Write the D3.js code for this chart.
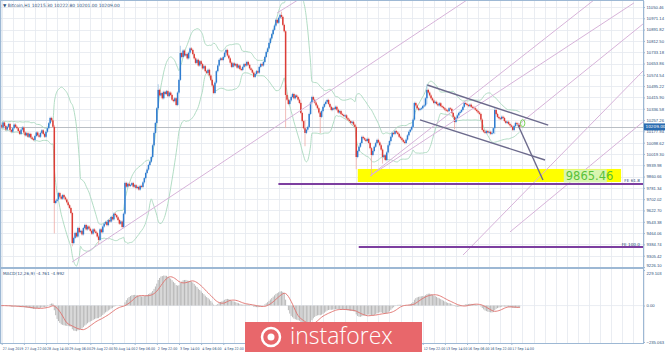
<!DOCTYPE html>
<html><head><meta charset="utf-8">
<script src="https://cdn.jsdelivr.net/npm/d3@7"></script>
<style>
body{margin:0;background:#fff;}
svg{display:block;font-family:"DejaVu Sans",sans-serif;}
</style></head><body>
<svg id="chart" width="665" height="352"></svg>
<script>
// hourly closes, Bitcoin H1, 27 Aug - 17 Sep
const closes = [
10223,10205,10240,10215,10190,10210,10230,10188,10175,10200,10225,10210,10200,10180,10160,10190,10205,10170,10150,10165,
10140,10160,10135,10125,10118,10145,10170,10150,10140,10167,10185,10160,10140,10175,10200,10235,10272,10255,10210,9675,
9690,9700,9745,9720,9705,9731,9715,9700,9680,9660,9640,9605,9394,9430,9465,9440,9500,9470,9480,9455,
9500,9521,9490,9510,9495,9480,9460,9490,9475,9465,9440,9416,9490,9470,9510,9530,9542,9520,9555,9545,
9577,9560,9600,9590,9575,9556,9530,9545,9507,9600,9816,9790,9810,9795,9802,9815,9790,9800,9780,9788,
9770,9795,9788,9820,9850,9886,9910,9942,9965,9998,10080,10167,10237,10340,10469,10430,10447,10410,10455,10440,
10460,10425,10450,10433,10400,10390,10410,10363,10450,10539,10728,10700,10745,10710,10720,10690,10730,10760,10749,10720,
10690,10658,10680,10640,10670,10650,10620,10635,10600,10588,10610,10570,10539,10500,10447,10520,10600,10640,10679,10690,
10679,10700,10730,10749,10710,10690,10660,10630,10655,10640,10650,10625,10640,10615,10609,10630,10650,10640,10665,10645,
10620,10609,10590,10560,10580,10600,10590,10630,10650,10640,10665,10700,10735,10760,10798,10830,10860,10890,10920,10960,
10940,10975,10995,10981,10925,10880,10433,10400,10370,10395,10419,10440,10410,10430,10419,10400,10377,10307,10250,10200,
10167,10190,10209,10300,10380,10419,10400,10380,10360,10340,10310,10279,10320,10350,10370,10385,10398,10370,10350,10328,
10340,10335,10350,10330,10310,10320,10300,10293,10285,10290,10270,10260,10250,10237,10245,10225,10209,9998,10040,10070,
10096,10139,10130,10120,10110,10125,10096,10060,10012,10040,10070,10095,10118,10100,10080,10050,9998,10010,9977,10030,
10080,10110,10140,10167,10160,10180,10170,10160,10140,10130,10118,10105,10096,10120,10150,10175,10190,10209,10260,10377,
10360,10340,10328,10335,10340,10355,10360,10410,10469,10450,10430,10410,10395,10377,10385,10370,10360,10375,10355,10349,
10340,10330,10325,10320,10340,10335,10307,10280,10244,10270,10290,10307,10315,10328,10350,10377,10370,10363,10355,10365,
10350,10349,10340,10330,10320,10310,10300,10260,10188,10175,10167,10180,10170,10175,10160,10167,10200,10328,10300,10279,
10270,10265,10280,10272,10250,10237,10245,10230,10220,10210,10188,10215,10237,10230,10223,10209
];
const firstOpen = 10230;
// [bar, high, low] for the long shadows
const spikes = [
  [39, 10215, 9470], [52, 9605, 9380], [71, 9445, 9395], [114, 10500, 10337], [130, 10770, 10539],
  [203, 11009, 10975], [206, 10880, 10209], [220, 10250, 10082], [231, 10310, 10174], [257, 10209, 9920],
  [268, 10060, 9870], [276, 10050, 9960], [308, 10500, 10377], [328, 10280, 10200], [357, 10340, 10167]
];

const priceTicks = [9226.10, 9305.42, 9384.74, 9464.06, 9543.38, 9622.70, 9702.02, 9781.34, 9860.66, 9939.98,
  10019.30, 10098.62, 10177.94, 10257.26, 10336.58, 10415.90, 10495.22, 10574.54, 10653.86, 10733.18,
  10812.50, 10891.82, 10971.14, 11050.46];
const timeLabels = ["27 Aug 2019", "27 Aug 22:00", "28 Aug 14:00", "29 Aug 06:00", "29 Aug 22:00", "30 Aug 14:00",
  "2 Sep 06:00", "2 Sep 22:00", "3 Sep 14:00", "4 Sep 06:00", "4 Sep 22:00", "5 Sep 14:00", "6 Sep 06:00",
  "6 Sep 22:00", "9 Sep 14:00", "10 Sep 06:00", "10 Sep 22:00", "11 Sep 14:00", "12 Sep 06:00", "12 Sep 22:00",
  "13 Sep 14:00", "16 Sep 06:00", "16 Sep 22:00", "17 Sep 14:00"];
const labelBars = [1, 17, 33, 49, 65, 81, 97, 113, 129, 145, 161, 177, 193, 209, 225, 241, 257, 273, 289, 305, 321, 337, 353, 369];
const macdTicks = [229.103, 0, -235.063];

// drawn objects, [bar, price] end points
const trendLines = [
  [[51.8, 9261], [337.0, 11100]],
  [[199.8, 11008], [214.9, 11100]],
  [[266.9, 9865], [457.5, 11079]],
  [[266.9, 9865], [428.7, 11100]],
  [[334.1, 9310], [464, 10601]],
  [[368.0, 9472], [464, 10244]],
  [[373.8, 10222], [464, 10931]]
];
const channelLines = [
  [[308.3, 10503], [395.6, 10222]],
  [[303.0, 10258], [393.3, 9977]],
  [[373.8, 10223], [391.8, 9837]]
];
const feLevels = [{ name: "FE 61.8", price: 9808.5, from: 200.8 }, { name: "FE 100.0", price: 9366.4, from: 258.8 }];
const targetZone = { from: 258.1, to: 448.2, top: 9914, bottom: 9822.5, label: "9865.46" };
const lastPrice = 10209.0;

const svg = d3.select("#chart");
const plotRight = 643;
const x = d3.scaleLinear().domain([0, 466]).range([0.3, 0.3 + 466 * 1.385]);
const y = d3.scaleLinear().domain([priceTicks[0], priceTicks[priceTicks.length - 1]]).range([267, 7]);
const yM = d3.scaleLinear().domain([macdTicks[2], macdTicks[0]]).range([342, 270]);

const defs = svg.append("defs");
defs.append("clipPath").attr("id", "cp").append("rect").attr("x", 0).attr("y", 1).attr("width", plotRight).attr("height", 266);
defs.append("clipPath").attr("id", "cm").append("rect").attr("x", 0).attr("y", 269).attr("width", plotRight).attr("height", 74);

// grid
const grid = svg.append("g").attr("stroke", "#e4e9ef").attr("stroke-width", 0.8);
grid.selectAll(".h").data(priceTicks).join("line")
  .attr("x1", 0).attr("x2", plotRight).attr("y1", d => Math.round(y(d)) + 0.5).attr("y2", d => Math.round(y(d)) + 0.5);
grid.selectAll(".v").data(d3.range(1, 466, 8)).join("line")
  .attr("x1", d => Math.round(x(d)) + 0.5).attr("x2", d => Math.round(x(d)) + 0.5).attr("y1", 1).attr("y2", 343);
grid.append("line").attr("x1", 0).attr("x2", plotRight).attr("y1", yM(0)).attr("y2", yM(0));

// bars
const bars = closes.map((c, i) => {
  const o = i === 0 ? firstOpen : closes[i - 1];
  return { i, o, c, h: Math.max(o, c), l: Math.min(o, c) };
});
spikes.forEach(([i, h, l]) => { bars[i].h = h; bars[i].l = l; });

// bollinger 20,2
const bb = closes.map((c, i) => {
  const w = closes.slice(Math.max(0, i - 19), i + 1);
  const m = d3.mean(w), sd = Math.sqrt(d3.mean(w, v => (v - m) ** 2));
  return { i, up: m + 2 * sd, lo: m - 2 * sd };
});

const pricePanel = svg.append("g").attr("clip-path", "url(#cp)");

// target zone
pricePanel.append("rect")
  .attr("x", x(targetZone.from)).attr("width", x(targetZone.to) - x(targetZone.from))
  .attr("y", y(targetZone.top)).attr("height", y(targetZone.bottom) - y(targetZone.top))
  .attr("fill", "#ffff00");

// last price line
pricePanel.append("line").attr("x1", 0).attr("x2", plotRight)
  .attr("y1", Math.round(y(lastPrice)) + 0.5).attr("y2", Math.round(y(lastPrice)) + 0.5)
  .attr("stroke", "#b9bec4").attr("stroke-width", 1);

const band = k => d3.line().x(d => x(d.i)).y(d => y(d[k])).curve(d3.curveMonotoneX);
["up", "lo"].forEach(k => {
  pricePanel.append("path").datum(bb.slice(1)).attr("d", band(k))
    .attr("fill", "none").attr("stroke", "#a9d8bd").attr("stroke-width", 0.9);
});

pricePanel.append("g").selectAll("line").data(bars).join("line")
  .attr("x1", d => x(d.i)).attr("x2", d => x(d.i))
  .attr("y1", d => y(d.h) - 1.2).attr("y2", d => y(d.l) + 1.2)
  .attr("stroke", d => d.c >= d.o ? "#9cc1e6" : "#eeaaa6").attr("stroke-width", 0.8);
pricePanel.append("g").selectAll("rect").data(bars).join("rect")
  .attr("x", d => x(d.i) - 0.75).attr("width", 1.5)
  .attr("y", d => y(Math.max(d.o, d.c)))
  .attr("height", d => Math.max(1, Math.abs(y(d.o) - y(d.c))))
  .attr("fill", d => d.c >= d.o ? "#2f7cd0" : "#dc3c36");

const seg = l => pricePanel.append("line")
  .attr("x1", x(l[0][0])).attr("y1", y(l[0][1])).attr("x2", x(l[1][0])).attr("y2", y(l[1][1]));
trendLines.forEach(l => seg(l).attr("stroke", "#d7b3d9").attr("stroke-width", 1));
channelLines.forEach(l => seg(l).attr("stroke", "#6c6a8c").attr("stroke-width", 1.4));

feLevels.forEach(f => {
  pricePanel.append("line").attr("x1", x(f.from)).attr("x2", plotRight)
    .attr("y1", y(f.price)).attr("y2", y(f.price)).attr("stroke", "#7d3fa0").attr("stroke-width", 1.8);
  svg.append("text").attr("x", 640).attr("y", y(f.price) - 1.5).attr("text-anchor", "end")
    .attr("font-size", 4.2).attr("fill", "#2e4f7a").text(f.name);
});

// circle marker at last bar
pricePanel.append("ellipse").attr("cx", x(375) + 3).attr("cy", y(10235)).attr("rx", 2.2).attr("ry", 3.5)
  .attr("fill", "none").attr("stroke", "#6ccf48").attr("stroke-width", 0.9);

// target label
const tx = x(targetZone.from) + 0.79 * (x(targetZone.to) - x(targetZone.from));
const tl = svg.append("g");
tl.append("rect").attr("x", tx - 2).attr("y", y(+targetZone.label) - 6.5).attr("width", 43).attr("height", 13).attr("fill", "#d9f5b0");
tl.append("text").attr("x", tx).attr("y", y(+targetZone.label) + 4.2).attr("font-size", 11.5)
  .attr("fill", "#58c13a").text(targetZone.label);

// MACD 12,26,9
const ema = (arr, n) => { const a = 2 / (n + 1); let e = arr[0]; return arr.map(v => (e = e + a * (v - e))); };
const e12 = ema(closes, 12), e26 = ema(closes, 26);
const macd = closes.map((c, i) => e12[i] - e26[i]);
const signal = macd.map((m, i) => d3.mean(macd.slice(Math.max(0, i - 8), i + 1)));
const macdPanel = svg.append("g").attr("clip-path", "url(#cm)");
macdPanel.selectAll("line").data(macd).join("line")
  .attr("x1", (d, i) => x(i)).attr("x2", (d, i) => x(i))
  .attr("y1", yM(0)).attr("y2", d => yM(d))
  .attr("stroke", "#b8b8b8").attr("stroke-width", 1);
macdPanel.append("path").datum(signal)
  .attr("d", d3.line().x((d, i) => x(i)).y(d => yM(d)))
  .attr("fill", "none").attr("stroke", "#e0706c").attr("stroke-width", 0.9);

// frame
const frame = svg.append("g").attr("stroke", "#9db8d4");
frame.append("line").attr("x1", plotRight + 0.5).attr("x2", plotRight + 0.5).attr("y1", 0).attr("y2", 344);
frame.append("line").attr("x1", 0).attr("x2", plotRight + 1).attr("y1", 343.5).attr("y2", 343.5);
frame.append("line").attr("x1", 0).attr("x2", plotRight + 1).attr("y1", 268).attr("y2", 268).attr("stroke-width", 2.2);
frame.append("line").attr("x1", 0.5).attr("x2", 0.5).attr("y1", 0).attr("y2", 344).attr("stroke-width", 1.5);
frame.append("line").attr("x1", 0).attr("x2", plotRight + 1).attr("y1", 0.5).attr("y2", 0.5);

// axes
const axisR = svg.append("g").attr("transform", `translate(${plotRight},0)`)
  .call(d3.axisRight(y).tickValues(priceTicks).tickSize(2).tickFormat(d3.format(".2f")));
axisR.select(".domain").remove();
axisR.selectAll("text").attr("font-size", 4.2).attr("fill", "#2e4f7a").attr("x", 3.5);
axisR.selectAll(".tick").filter(d => d === priceTicks[0]).select("text").attr("dy", "-0.05em");
axisR.selectAll("line").attr("stroke", "#9db8d4");

const axisM = svg.append("g").attr("transform", `translate(${plotRight},0)`)
  .call(d3.axisRight(yM).tickValues(macdTicks).tickSize(2).tickFormat(d => d === 0 ? "0.00" : d3.format(".3f")(d)));
axisM.select(".domain").remove();
axisM.selectAll("text").attr("font-size", 4.2).attr("fill", "#2e4f7a").attr("x", 3.5);
axisM.selectAll(".tick").filter(d => d === macdTicks[0]).select("text").attr("dy", "0.95em");
axisM.selectAll("line").attr("stroke", "#9db8d4");

const px = svg.append("g").attr("transform", `translate(${plotRight},${y(lastPrice)})`);
px.append("rect").attr("x", 1).attr("y", -3.5).attr("width", 21).attr("height", 7).attr("fill", "#2b6cb0");
px.append("text").attr("x", 2.5).attr("y", 1.5).attr("font-size", 4.2).attr("fill", "#fff").text(d3.format(".2f")(lastPrice));

// time labels; the ones under the badge are hidden in the source too
const logoSpan = [240, 422];
const shown = labelBars.map((b, i) => ({ b, t: timeLabels[i] }))
  .filter(d => x(d.b) < logoSpan[0] || x(d.b) > logoSpan[1]);
const axisB = svg.append("g").attr("transform", "translate(0,343)");
axisB.selectAll("text").data(shown).join("text")
  .attr("x", d => x(d.b) + 1).attr("y", 6.5)
  .attr("font-family", "'Liberation Sans Narrow','DejaVu Sans Condensed',sans-serif")
  .attr("font-size", 3.6).attr("fill", "#2e4f7a")
  .text(d => d.t);
axisB.selectAll("line").data(labelBars).join("line")
  .attr("x1", d => x(d) + 0.5).attr("x2", d => x(d) + 0.5).attr("y1", 0).attr("y2", 2).attr("stroke", "#9db8d4");

svg.append("text").attr("x", 3).attr("y", 7).attr("font-size", 4.4).attr("fill", "#2e4f7a")
  .text("\u25BC Bitcoin,H1  10215.30 10222.80 10201.00 10209.00");
svg.append("text").attr("x", 3).attr("y", 275).attr("font-size", 4.2).attr("fill", "#2e4f7a")
  .text("MACD(12,26,9) -4.761 -4.992");

// instaforex badge
const logo = svg.append("g").attr("transform", "translate(245,322)");
logo.append("rect").attr("width", 177).attr("height", 30).attr("fill", "#e8676b");
logo.append("circle").attr("cx", 26).attr("cy", 15).attr("r", 9).attr("fill", "none").attr("stroke", "#fff").attr("stroke-width", 2.5);
logo.append("circle").attr("cx", 26).attr("cy", 15).attr("r", 3.5).attr("fill", "#fff");
logo.append("text").attr("x", 45).attr("y", 22).attr("font-family", "'Open Sans',sans-serif").attr("font-weight", 300)
  .attr("font-size", 23).attr("fill", "#fff").text("instaforex");
</script>
</body></html>
